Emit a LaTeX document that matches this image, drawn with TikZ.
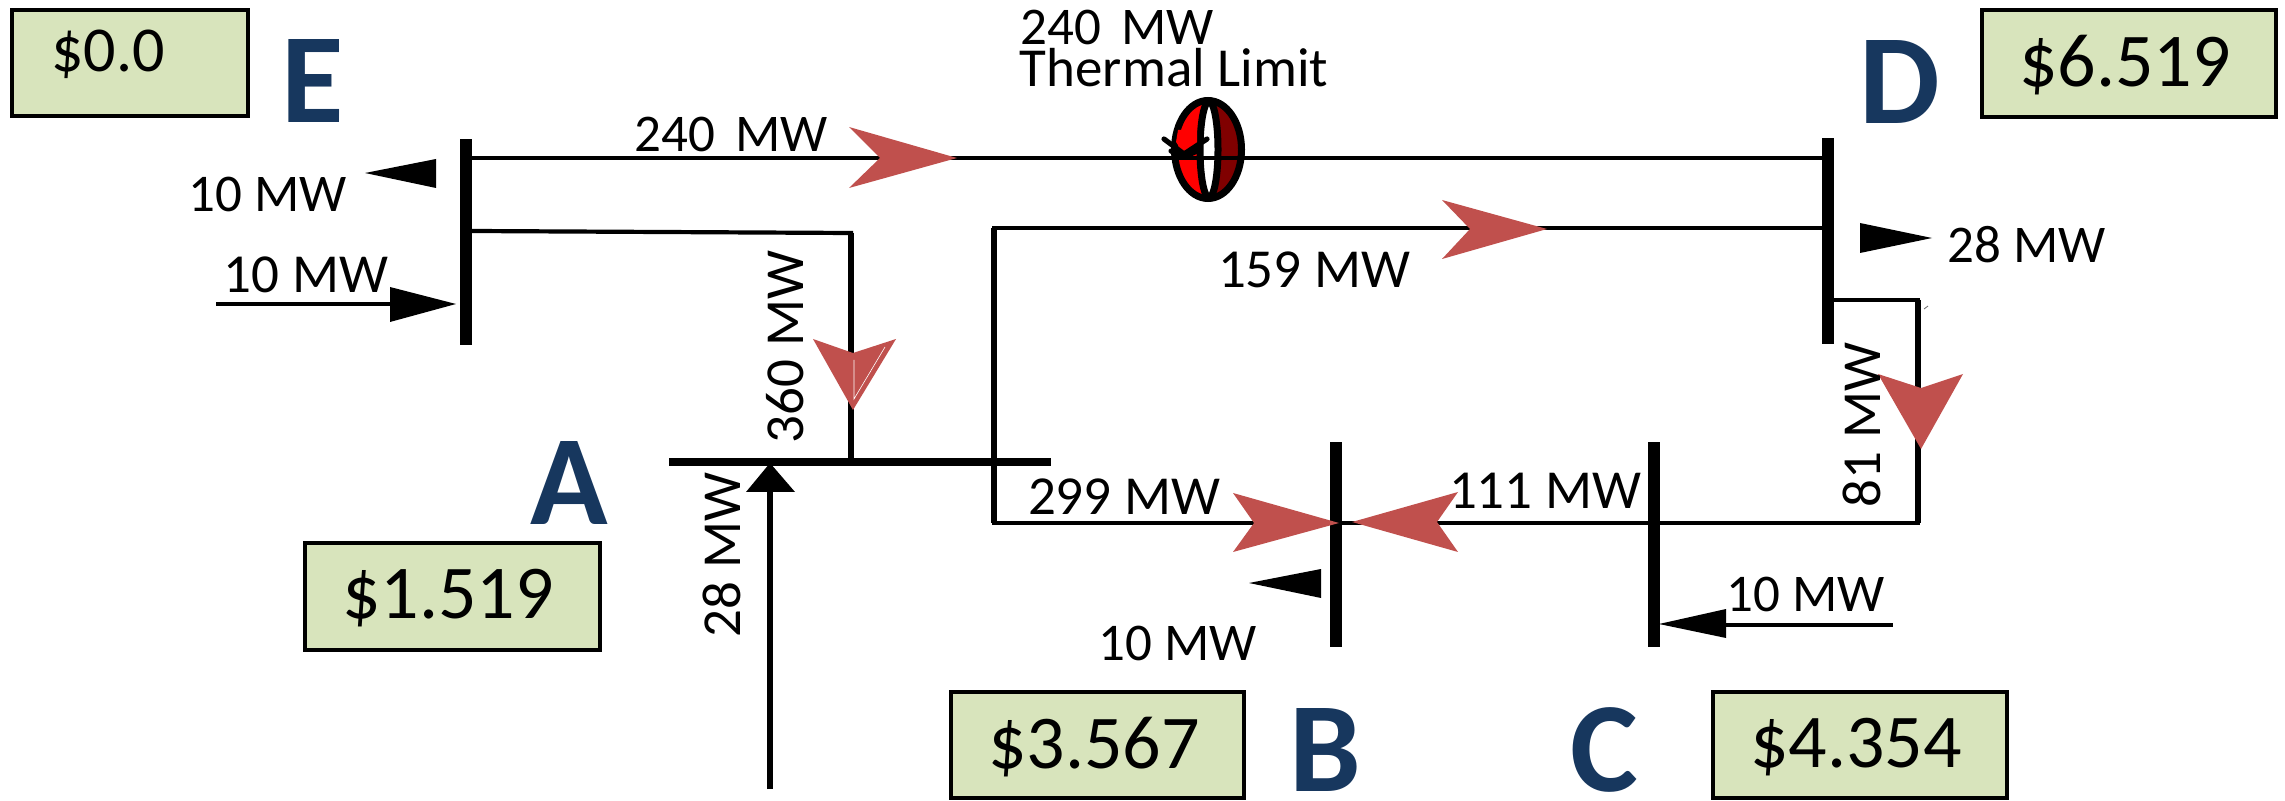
\documentclass[tikz,border=0pt]{standalone}
\usepackage{fontspec}
\setmainfont{Carlito}
\definecolor{boxgreen}{RGB}{216,228,188}
\definecolor{flowred}{RGB}{192,80,77}
\definecolor{letterblue}{RGB}{23,55,94}
\definecolor{ringdark}{RGB}{128,0,0}
\tikzset{
  x=0.5pt,y=-0.5pt,
  price/.style={draw=black,line width=2pt,fill=boxgreen,inner sep=0pt,outer sep=0pt},
  pricetext/.style={font=\fontsize{38}{38}\selectfont,inner sep=0pt},
  busletter/.style={font=\fontsize{64}{64}\selectfont\bfseries,text=letterblue,inner sep=0pt},
  mw/.style={font=\fontsize{27.5}{27.5}\selectfont,inner sep=0pt},
  mwsmall/.style={font=\fontsize{26.5}{26.5}\selectfont,inner sep=0pt},
  wire/.style={draw=black,line width=2.1pt,line cap=rect},
  vwire/.style={draw=black,line width=2.7pt},
  bus/.style={fill=black,draw=none,inner sep=0pt,outer sep=0pt},
  flow/.style={fill=flowred,draw=none},
  blackhead/.style={fill=black,draw=none},
  ringline/.style={draw=black,line width=3.5pt},
}
\begin{document}
\begin{tikzpicture}
\useasboundingbox (0,0) rectangle (2285,801);
% buses
\node[bus,minimum width=6pt,minimum height=103pt] (busE) at (466,242) {};
\node[bus,minimum width=6pt,minimum height=103pt] (busD) at (1828,241.5) {};
\node[bus,minimum width=191pt,minimum height=4pt] (busA) at (860,462) {};
\node[bus,minimum width=6pt,minimum height=102.5pt] (busB) at (1336,544.5) {};
\node[bus,minimum width=6pt,minimum height=102.5pt] (busC) at (1654,544.5) {};
% connector corners
\coordinate (e2) at (851,233);
\coordinate (a2) at (994,228);
\coordinate (a3) at (994,523);
\coordinate (dc1) at (1918,300);
\coordinate (dc2) at (1918,523);
% ring behind the line
\fill[ringdark] (1208,149.5) ellipse [x radius=33.5,y radius=49];
\begin{scope}
\clip (1208,149.5) ellipse [x radius=33.5,y radius=49];
\fill[red] (1170,90) rectangle (1209,210);
\end{scope}
\draw[ringline] (1208,149.5) ellipse [x radius=33.5,y radius=49];
\fill[white,ringline] (1209,149.5) ellipse [x radius=9,y radius=48];
% ring small arrow
\fill[red] (1176,142) -- (1184,154) -- (1197,145) -- (1197,130) -- (1178,130) -- cycle;
\draw[black,line width=2.6pt,line join=round,line cap=round] (1164,139) -- (1184,154) -- (1207,139);
\draw[black,line width=2.6pt,line join=round,line cap=round] (1171,151) -- (1184,157) -- (1197,151);
% lines
\draw[wire] (busE.east |- 0,158) -- (busD.west |- 0,158);
\draw[wire] (busE.east |- 0,231) -- (e2);
\draw[vwire] (e2) -- (e2 |- busA.north);
\draw[wire] (busD.west |- a2) -- (a2);
\draw[vwire] (a2) -- (a3);
\draw[wire] (a3) -- (a3 -| busB.west);
\draw[wire] (busD.east |- dc1) -- (dc1);
\draw[vwire] (dc1) -- (dc2);
\draw[wire] (dc2) -- (dc2 -| busB.east);
% flow arrowheads
\path[flow] (957,158) -- (849,127) -- (880,158) -- (849,188) -- cycle;
\path[flow] (1547,229) -- (1442,200) -- (1470,229) -- (1442,259) -- cycle;
\path[flow] (853,410) -- (813,339) -- (853,353) -- (896,339) -- cycle;
\draw[white,line width=0.3pt] (885,347) -- (854,399) -- (854,360);
\path[flow] (1921,449) -- (1878,374) -- (1921,388) -- (1963,374) -- cycle;
\path[flow] (1339,523) -- (1233,493) -- (1254,523) -- (1233,552) -- cycle;
\path[flow] (1352,522) -- (1458,492) -- (1437,522) -- (1458,552) -- cycle;
% black arrows
\coordinate (gE) at (218,304);
\coordinate (gEh) at (390,304);
\draw[wire] (gE) -- (gEh);
\path[blackhead] (456,304) -- (390,287) -- (390,322) -- cycle;
\path[blackhead] (365,173) -- (436,159) -- (436,188) -- cycle;
\coordinate (gA) at (770,789);
\coordinate (gAh) at (770,490);
\draw[vwire] (gA) -- (gAh);
\path[blackhead] (770,463) -- (746,492) -- (795,492) -- cycle;
\path[blackhead] (1249,583) -- (1321,569) -- (1321,598) -- cycle;
\coordinate (gC) at (1891,625);
\coordinate (gCh) at (1726,625);
\draw[wire] (gC) -- (gCh);
\path[blackhead] (1659,624) -- (1726,609) -- (1726,638) -- cycle;
\path[blackhead] (1932,238) -- (1860,223) -- (1860,253) -- cycle;
\draw[black!60,line width=0.4pt] (1924,309) -- (1928,306);
% price boxes
\node[price,minimum width=118pt,minimum height=53pt] (pE) at (130,63) {};
\node[pricetext,font=\fontsize{32}{32}\selectfont] (tE) at (108,54) {\$0.0};
\node[price,minimum width=147pt,minimum height=53.5pt] (pD) at (2129,63.5) {};
\node[pricetext] (tD) at (2125,65) {\$6.519};
\node[price,minimum width=147.5pt,minimum height=53.5pt] (pA) at (452.5,596.5) {};
\node[pricetext] (tA) at (448,598) {\$1.519};
\node[price,minimum width=146.5pt,minimum height=53pt] (pB) at (1097.5,745) {};
\node[pricetext] (tB) at (1094,747) {\$3.567};
\node[price,minimum width=147pt,minimum height=53pt] (pC) at (1860,745) {};
\node[pricetext] (tC) at (1856,747) {\$4.354};
% bus letters
\node[busletter] (lE) at (313,81.5) {E};
\node[busletter] (lD) at (1900,82) {D};
\node[busletter] (lA) at (569,483) {A};
\node[busletter] (lB) at (1325,750) {B};
\node[busletter] (lC) at (1604,750) {C};
% flow labels
\node[mwsmall] (m1) at (1117,27) {240\hspace{10pt}MW};
\node[mw] (m2) at (1174,68) {Thermal Limit};
\node[mwsmall] (m3) at (731,134) {240\hspace{10pt}MW};
\node[mwsmall] (m4) at (268,194) {10 MW};
\node[mw] (m5) at (306,275) {10 MW};
\node[mw] (m6) at (1314,270) {159 MW};
\node[mwsmall] (m7) at (2027,245) {28 MW};
\node[mw,rotate=90] (m8) at (785,347) {360 MW};
\node[mw,rotate=90] (m9) at (722,555) {28 MW};
\node[mw] (m10) at (1124,497) {299 MW};
\node[mw] (m11) at (1545,491) {111 MW};
\node[mw,rotate=90] (m12) at (1862,425) {81 MW};
\node[mwsmall] (m13) at (1806,594) {10 MW};
\node[mwsmall] (m14) at (1178,643) {10 MW};
\end{tikzpicture}
\end{document}
